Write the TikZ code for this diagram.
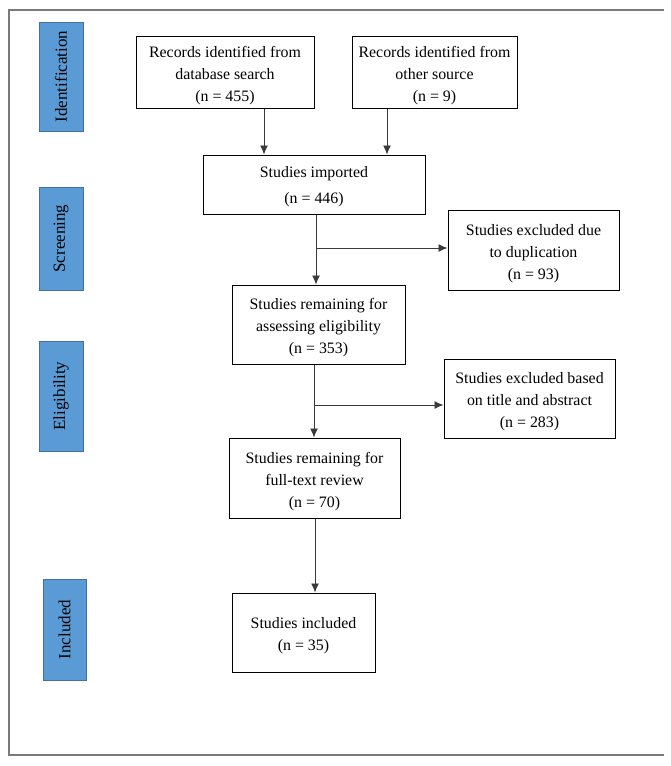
\documentclass[tikz,border=0pt]{standalone}
\usepackage{fontspec}
\setmainfont{Liberation Serif}
\usetikzlibrary{arrows.meta}
\definecolor{lblfill}{HTML}{5B9BD5}
\definecolor{lbldraw}{HTML}{41719C}
\definecolor{linegray}{HTML}{3A3A3A}
\definecolor{framegray}{HTML}{7A7A7A}
\newcommand\boxtopstrut[1]{\rule{0pt}{#1}}
\tikzset{
  flowbox/.style={draw=black, line width=1pt, rectangle, align=center,
    font=\fontsize{15.9}{22}\selectfont, inner sep=2pt},
  stagelbl/.style={draw=lbldraw, fill=lblfill, line width=0.8pt, rectangle,
    minimum width=44pt, font=\fontsize{17}{20}\selectfont, inner sep=0pt},
  arr/.style={draw=linegray, line width=0.9pt, -{Latex[length=9pt,width=8pt]}},
  plainline/.style={draw=linegray, line width=0.9pt}
}
\begin{document}
\begin{tikzpicture}[x=1pt,y=-1pt]
\useasboundingbox (0,0) rectangle (670,766);
% frame (top, left, bottom)
\draw[framegray, line width=1.2pt] (664,10) -- (9,10) -- (9,755) -- (664,755);

% stage labels
\node[stagelbl, minimum height=109pt] (lid) at (61,76.5) {\rotatebox{90}{Identification}};
\node[stagelbl, minimum height=103pt] (lsc) at (61,238.5) {\rotatebox{90}{Screening}};
\node[stagelbl, minimum height=110pt] (lel) at (61,396) {\rotatebox{90}{Eligibility}};
\node[stagelbl, minimum width=43pt, minimum height=101pt] (lin) at (64.5,629.5) {\rotatebox{90}{Included}};

% boxes
\node[flowbox, minimum width=178pt, minimum height=72pt] (b1) at (225,72)
  {\boxtopstrut{19pt}Records identified from\\database search\\(n = 455)};
\node[flowbox, minimum width=165pt, minimum height=72pt] (b2) at (434.5,72)
  {\boxtopstrut{19pt}Records identified from\\other source\\(n = 9)};
\node[flowbox, minimum width=222pt, minimum height=59pt, font=\fontsize{15.9}{26}\selectfont] (b3) at (314,184.5)
  {\boxtopstrut{15pt}Studies imported\\(n = 446)};
\node[flowbox, minimum width=171pt, minimum height=80pt] (b4) at (533.5,250)
  {\boxtopstrut{18pt}Studies excluded due\\to duplication\\(n = 93)};
\node[flowbox, minimum width=173pt, minimum height=79pt] (b5) at (318.5,324.5)
  {\boxtopstrut{18pt}Studies remaining for\\assessing eligibility\\(n = 353)};
\node[flowbox, minimum width=171pt, minimum height=79pt] (b6) at (529.5,398.5)
  {\boxtopstrut{18pt}Studies excluded based\\on title and abstract\\(n = 283)};
\node[flowbox, minimum width=171pt, minimum height=80pt] (b7) at (314.5,478)
  {\boxtopstrut{18pt}Studies remaining for\\full-text review\\(n = 70)};
\node[flowbox, minimum width=143pt, minimum height=79pt] (b8) at (303.5,632.5)
  {\boxtopstrut{18pt}Studies included\\(n = 35)};

% connectors
\draw[arr] (264,0 |- b1.south) -- (264,0 |- b3.north);
\draw[arr] (387,0 |- b2.south) -- (387,0 |- b3.north);
\draw[arr] (316,0 |- b3.south) -- (316,0 |- b5.north);
\coordinate (j1) at (316,248);
\draw[arr] (j1) -- (b4.west |- j1);
\draw[arr] (314,0 |- b5.south) -- (314,0 |- b7.north);
\coordinate (j2) at (314,405);
\draw[arr] (j2) -- (b6.west |- j2);
\draw[arr] (315,0 |- b7.south) -- (315,0 |- b8.north);
\end{tikzpicture}
\end{document}
